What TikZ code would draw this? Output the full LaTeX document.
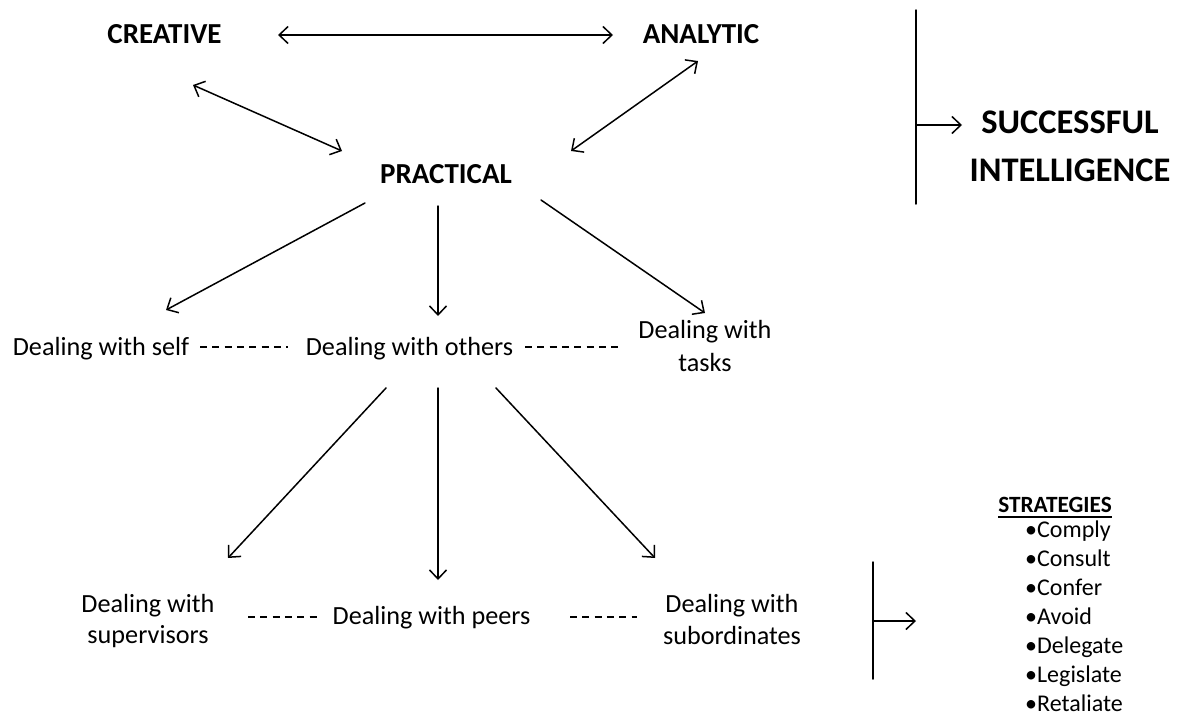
\documentclass[tikz,border=0pt]{standalone}
\usepackage{fontspec}
\setmainfont{Carlito}
\usetikzlibrary{arrows.meta}
\begin{document}
\begin{tikzpicture}[x=1pt,y=-1pt,
  head/.style={font=\bfseries\fontsize{29}{30}\selectfont, inner sep=0pt, anchor=base},
  succ/.style={font=\bfseries\fontsize{34.5}{48}\selectfont, inner sep=0pt, align=center, anchor=base},
  txt/.style={font=\fontsize{26.2}{32}\selectfont, inner sep=0pt, align=center, anchor=base},
  item/.style={font=\fontsize{24}{29}\selectfont, inner sep=0pt, anchor=base west},
  conn/.style={line width=1.5pt, line cap=round},
  tip/.style={Straight Barb[length=9pt,width=17pt,line width=1.5pt]},
  arr/.style={conn, -{Straight Barb[length=9pt,width=17pt,line width=1.5pt]}},
  darr/.style={conn, {Straight Barb[length=9pt,width=17pt,line width=1.5pt]}-{Straight Barb[length=9pt,width=17pt,line width=1.5pt]}},
  dash line/.style={line width=1.3pt, dash pattern=on 7pt off 5.3pt}]
\useasboundingbox (0,0) rectangle (1178,715);

% top level
\node[head] (creative) at (164.5,43.5) {CREATIVE};
\node[head] (analytic) at (701,43.5) {ANALYTIC};
\node[head] (practical) at (446,183) {PRACTICAL};
\node[succ] (si) at (1070,181) {SUCCESSFUL\\INTELLIGENCE};

% second level
\node[txt] (self) at (101,355) {Dealing with self};
\node[txt] (others) at (409.5,355) {Dealing with others};
\node[txt, font=\fontsize{26.2}{33}\selectfont] (tasks) at (705,371) {Dealing with\\tasks};

% third level
\node[txt, font=\fontsize{26.2}{31}\selectfont] (sup) at (148,643) {Dealing with\\supervisors};
\node[txt] (peers) at (431.5,624) {Dealing with peers};
\node[txt, font=\fontsize{26.2}{32}\selectfont] (sub) at (732,644) {Dealing with\\subordinates};

% strategies
\node[font=\bfseries\fontsize{23.3}{28}\selectfont, inner sep=0pt, anchor=base] (strat) at (1055,512) {STRATEGIES};
\draw[line width=1.3pt] ([yshift=-5pt]strat.base west) -- ([yshift=-5pt]strat.base east);
\node[item] (s1) at (1025,537) {•Comply};
\node[item] (s2) at (1025,566) {•Consult};
\node[item] (s3) at (1025,595) {•Confer};
\node[item] (s4) at (1025,624) {•Avoid};
\node[item] (s5) at (1025,653) {•Delegate};
\node[item] (s6) at (1025,682) {•Legislate};
\node[item] (s7) at (1025,711) {•Retaliate};

% connector end points
\coordinate (ca) at (278,35);
\coordinate (ac) at (613,35);
\coordinate (cp) at (193,85);
\coordinate (pc) at (342,151);
\coordinate (ap) at (698,61);
\coordinate (pa) at (571,151);
\coordinate (ps1) at (365,203);
\coordinate (ps2) at (166,310);
\coordinate (po1) at (438,206);
\coordinate (po2) at (438,316);
\coordinate (pt1) at (541,200);
\coordinate (pt2) at (705,313);
\coordinate (os1) at (386,388);
\coordinate (os2) at (228,558);
\coordinate (op1) at (438,388);
\coordinate (op2) at (438,580);
\coordinate (ob1) at (496,388);
\coordinate (ob2) at (655,558);
\coordinate (bar1top) at (916,10);
\coordinate (bar1bot) at (916,204);
\coordinate (bar1mid) at (916,125);
\coordinate (bar2top) at (873,562);
\coordinate (bar2bot) at (873,679);
\coordinate (bar2mid) at (873,621);

\draw[darr] (ca) -- (ac);
\draw[darr] (cp) -- (pc);
\draw[darr] (ap) -- (pa);
\draw[arr] (ps1) -- (ps2);
\draw[arr] (po1) -- (po2);
\draw[arr] (pt1) -- (pt2);
\draw[arr] (os1) -- (os2);
\draw[arr] (op1) -- (op2);
\draw[arr] (ob1) -- (ob2);

% dashed links
\draw[dash line] (200,347) -- (288,347);
\draw[dash line] (525,347) -- (623,347);
\draw[dash line] (248,617) -- (318,617);
\draw[dash line] (570,617) -- (637,617);

% brackets
\draw[conn] (bar1top) -- (bar1bot);
\draw[arr] (bar1mid) -- ([xshift=46pt]bar1mid);
\draw[conn] (bar2top) -- (bar2bot);
\draw[arr] (bar2mid) -- ([xshift=43pt]bar2mid);
\end{tikzpicture}
\end{document}
